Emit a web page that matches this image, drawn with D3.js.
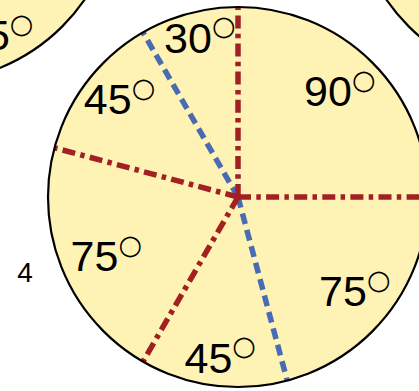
<!DOCTYPE html>
<html>
<head>
<meta charset="utf-8">
<script src="https://cdn.jsdelivr.net/npm/d3@7"></script>
<style>
  html, body { margin: 0; padding: 0; background: #fff; }
  svg { display: block; }
  .lbl { font-family: "Liberation Sans", Arial, sans-serif; fill: #000; }
  .deg { font-family: "DejaVu Sans", sans-serif; }
</style>
</head>
<body>
<script>
// sector angles of the pie, clockwise from 12 o'clock
const sectorAngles = [90, 75, 45, 75, 45, 30];
// kind of divider at the start of each sector
const dividerKinds = ["red", "red", "blue", "red", "red", "blue"];
// visible label of the neighbouring pie (top left) and its mid angle
const neighbourValues = [45];
const neighbourMidAngles = [154];
const sideLabel = "4";

const width = 419, height = 391;
const cx = 238, cy = 197, R = 190;
const fillColor = "#fef3b5";

const svg = d3.select("body").append("svg")
    .attr("width", width)
    .attr("height", height);

// neighbouring pies, only partly in view
const neighbours = [
    {x: -72, y: -108},
    {x: 543, y: -108}
];
svg.selectAll(".neighbour")
    .data(neighbours)
    .enter()
    .append("circle")
    .attr("class", "neighbour")
    .attr("cx", d => d.x)
    .attr("cy", d => d.y)
    .attr("r", R)
    .attr("fill", fillColor)
    .attr("stroke", "#000")
    .attr("stroke-width", 2.2);

const polar = (deg, r) => {
    const a = deg * Math.PI / 180;
    return [r * Math.sin(a), -r * Math.cos(a)];
};

function addLabel(sel, value, x, y) {
    const t = sel.append("text")
        .attr("class", "lbl")
        .attr("x", x)
        .attr("y", y)
        .attr("dy", "0.36em")
        .attr("text-anchor", "middle")
        .style("font-size", "43px");
    t.append("tspan").text(value);
    t.append("tspan")
        .attr("class", "deg")
        .attr("dx", 0)
        .attr("dy", -17.5)
        .style("font-size", "27px")
        .text("○");
}

const nb = svg.append("g")
    .attr("transform", `translate(${neighbours[0].x},${neighbours[0].y})`);
neighbourValues.forEach((v, i) => {
    const p = polar(neighbourMidAngles[i], 159);
    addLabel(nb, v, p[0], p[1]);
});

// main pie
const g = svg.append("g")
    .attr("transform", `translate(${cx},${cy})`);

const pie = d3.pie().sort(null).value(d => d)
    .startAngle(0).endAngle(2 * Math.PI);
const arcs = pie(sectorAngles);

const arc = d3.arc().innerRadius(0).outerRadius(R);
g.selectAll(".sector")
    .data(arcs)
    .enter()
    .append("path")
    .attr("class", "sector")
    .attr("d", arc)
    .attr("fill", fillColor)
    .attr("stroke", fillColor)
    .attr("stroke-width", 1);

// dividers: blue dashed under red dash-dot
const dividers = arcs.map((a, i) => ({angle: a.startAngle, kind: dividerKinds[i]}));
const order = ["blue", "red"];
order.forEach(kind => {
    g.selectAll(".div-" + kind)
        .data(dividers.filter(d => d.kind === kind))
        .enter()
        .append("line")
        .attr("class", "div-" + kind)
        .attr("x1", 0).attr("y1", 0)
        .attr("x2", d => R * Math.sin(d.angle))
        .attr("y2", d => -R * Math.cos(d.angle))
        .attr("stroke", kind === "red" ? "#a21f24" : "#4a6bb4")
        .attr("stroke-width", 5.5)
        .attr("stroke-dasharray", kind === "red" ? "13 5.3 4.5 5.3" : "11 6");
});

g.append("circle")
    .attr("r", R)
    .attr("fill", "none")
    .attr("stroke", "#000")
    .attr("stroke-width", 2.2);

// labels on a slightly upright ellipse, smaller sectors a bit further out
const labelR = d3.scaleLinear().domain([30, 90]).range([162, 147]);
arcs.forEach(a => {
    const mid = (a.startAngle + a.endAngle) / 2;
    const r = labelR(a.data);
    addLabel(g, a.data, 0.96 * r * Math.sin(mid) + 2, -1.02 * r * Math.cos(mid));
});

svg.append("text")
    .attr("class", "lbl")
    .attr("x", 25)
    .attr("y", 282)
    .attr("text-anchor", "middle")
    .style("font-size", "28px")
    .text(sideLabel);
</script>
</body>
</html>
